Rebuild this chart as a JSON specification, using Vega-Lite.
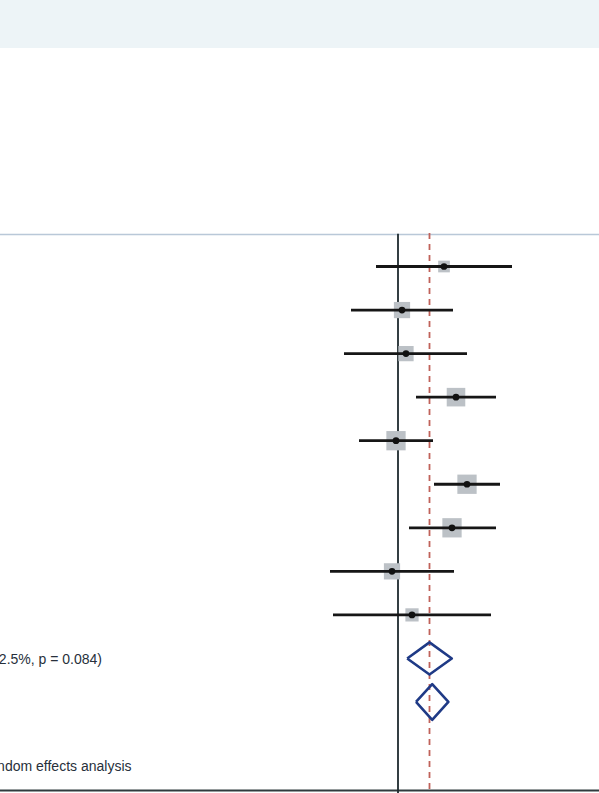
{
  "$schema": "https://vega.github.io/schema/vega-lite/v6.json",
  "width": 599,
  "height": 793,
  "padding": 0,
  "autosize": {"type": "none"},
  "background": "white",
  "config": {"view": {"stroke": null}},
  "datasets": {
    "studies": [
      {"study": 1, "row": 1, "es": 0.46, "lo": -0.22, "hi": 1.14, "w": 5.4},
      {"study": 2, "row": 2, "es": 0.04, "lo": -0.47, "hi": 0.55, "w": 10.4},
      {"study": 3, "row": 3, "es": 0.08, "lo": -0.54, "hi": 0.69, "w": 9.2},
      {"study": 4, "row": 4, "es": 0.58, "lo": 0.18, "hi": 0.98, "w": 13.6},
      {"study": 5, "row": 5, "es": -0.02, "lo": -0.39, "hi": 0.35, "w": 14.7},
      {"study": 6, "row": 6, "es": 0.69, "lo": 0.36, "hi": 1.02, "w": 14.7},
      {"study": 7, "row": 7, "es": 0.54, "lo": 0.11, "hi": 0.98, "w": 14.7},
      {"study": 8, "row": 8, "es": -0.06, "lo": -0.68, "hi": 0.56, "w": 10.4},
      {"study": 9, "row": 9, "es": 0.14, "lo": -0.65, "hi": 0.93, "w": 6.9}
    ],
    "diamonds": [
      {"d": "Overall", "k": 1, "x": 0.092, "y": 10},
      {"d": "Overall", "k": 2, "x": 0.315, "y": 9.63},
      {"d": "Overall", "k": 3, "x": 0.538, "y": 10},
      {"d": "Overall", "k": 4, "x": 0.315, "y": 10.37},
      {"d": "Overall", "k": 5, "x": 0.092, "y": 10},
      {"d": "Second", "k": 1, "x": 0.18, "y": 11},
      {"d": "Second", "k": 2, "x": 0.342, "y": 10.59},
      {"d": "Second", "k": 3, "x": 0.504, "y": 11},
      {"d": "Second", "k": 4, "x": 0.342, "y": 11.41},
      {"d": "Second", "k": 5, "x": 0.18, "y": 11}
    ],
    "texts": [
      {"label": "Overall  (I-squared = 52.5%, p = 0.084)", "xend": -2.96, "row": 10.04},
      {"label": "NOTE: Weights are from random effects analysis", "xend": -2.665, "row": 12.5}
    ]
  },
  "layer": [
    {
      "data": {"values": [{"y1": -5.12, "y2": -4.02}]},
      "mark": {"type": "rect", "color": "#edf4f7"},
      "encoding": {
        "y": {"field": "y1", "type": "quantitative", "scale": {"domain": [-5.12, 13.09], "reverse": true, "nice": false, "zero": false}, "axis": null},
        "y2": {"field": "y2"},
        "x": {"datum": -3.98, "type": "quantitative", "scale": {"domain": [-3.98, 2.01], "nice": false, "zero": false}, "axis": null},
        "x2": {"datum": 2.01}
      }
    },
    {
      "data": {"values": [{"y": 0.265}]},
      "mark": {"type": "rule", "color": "#b9c8d8", "strokeWidth": 1.5},
      "encoding": {
        "y": {"field": "y", "type": "quantitative", "scale": {"domain": [-5.12, 13.09], "reverse": true, "nice": false, "zero": false}, "axis": null}
      }
    },
    {
      "data": {"values": [{"y": 13.03}]},
      "mark": {"type": "rule", "color": "#2f3a3d", "strokeWidth": 2},
      "encoding": {
        "y": {"field": "y", "type": "quantitative", "scale": {"domain": [-5.12, 13.09], "reverse": true, "nice": false, "zero": false}, "axis": null}
      }
    },
    {
      "data": {"values": [{"x": 0, "y1": 0.25, "y2": 13.09}]},
      "mark": {"type": "rule", "color": "#1e2a2e", "strokeWidth": 1.8},
      "encoding": {
        "x": {"field": "x", "type": "quantitative", "scale": {"domain": [-3.98, 2.01], "nice": false, "zero": false}, "axis": null},
        "y": {"field": "y1", "type": "quantitative", "scale": {"domain": [-5.12, 13.09], "reverse": true, "nice": false, "zero": false}, "axis": null},
        "y2": {"field": "y2"}
      }
    },
    {
      "data": {"values": [{"x": 0.315, "y1": 0.23, "y2": 13.03}]},
      "mark": {"type": "rule", "color": "#c0625a", "strokeWidth": 1.8, "strokeDash": [6, 5]},
      "encoding": {
        "x": {"field": "x", "type": "quantitative", "scale": {"domain": [-3.98, 2.01], "nice": false, "zero": false}, "axis": null},
        "y": {"field": "y1", "type": "quantitative", "scale": {"domain": [-5.12, 13.09], "reverse": true, "nice": false, "zero": false}, "axis": null},
        "y2": {"field": "y2"}
      }
    },
    {
      "data": {"name": "studies"},
      "mark": {"type": "point", "shape": "square", "filled": true, "color": "#bcc1c6", "opacity": 1},
      "encoding": {
        "x": {"field": "es", "type": "quantitative", "scale": {"domain": [-3.98, 2.01], "nice": false, "zero": false}, "axis": null},
        "y": {"field": "row", "type": "quantitative", "scale": {"domain": [-5.12, 13.09], "reverse": true, "nice": false, "zero": false}, "axis": null},
        "size": {"field": "w", "type": "quantitative", "scale": {"domain": [0, 15], "range": [0, 380], "zero": true}, "legend": null}
      }
    },
    {
      "data": {"name": "studies"},
      "mark": {"type": "rule", "color": "#161616", "strokeWidth": 2.8},
      "encoding": {
        "x": {"field": "lo", "type": "quantitative", "scale": {"domain": [-3.98, 2.01], "nice": false, "zero": false}, "axis": null},
        "x2": {"field": "hi"},
        "y": {"field": "row", "type": "quantitative", "scale": {"domain": [-5.12, 13.09], "reverse": true, "nice": false, "zero": false}, "axis": null}
      }
    },
    {
      "data": {"name": "studies"},
      "mark": {"type": "point", "shape": "circle", "filled": true, "color": "#111111", "opacity": 1, "size": 45},
      "encoding": {
        "x": {"field": "es", "type": "quantitative", "scale": {"domain": [-3.98, 2.01], "nice": false, "zero": false}, "axis": null},
        "y": {"field": "row", "type": "quantitative", "scale": {"domain": [-5.12, 13.09], "reverse": true, "nice": false, "zero": false}, "axis": null}
      }
    },
    {
      "data": {"name": "diamonds"},
      "mark": {"type": "line", "color": "#1f3a86", "strokeWidth": 2.6, "strokeJoin": "round"},
      "encoding": {
        "x": {"field": "x", "type": "quantitative", "scale": {"domain": [-3.98, 2.01], "nice": false, "zero": false}, "axis": null},
        "y": {"field": "y", "type": "quantitative", "scale": {"domain": [-5.12, 13.09], "reverse": true, "nice": false, "zero": false}, "axis": null},
        "detail": {"field": "d"},
        "order": {"field": "k", "type": "quantitative"}
      }
    },
    {
      "data": {"name": "texts"},
      "mark": {"type": "text", "align": "right", "baseline": "middle", "font": "Liberation Sans", "fontSize": 14, "color": "#27303b", "clip": true},
      "encoding": {
        "x": {"field": "xend", "type": "quantitative", "scale": {"domain": [-3.98, 2.01], "nice": false, "zero": false}, "axis": null},
        "y": {"field": "row", "type": "quantitative", "scale": {"domain": [-5.12, 13.09], "reverse": true, "nice": false, "zero": false}, "axis": null},
        "text": {"field": "label"}
      }
    }
  ]
}
